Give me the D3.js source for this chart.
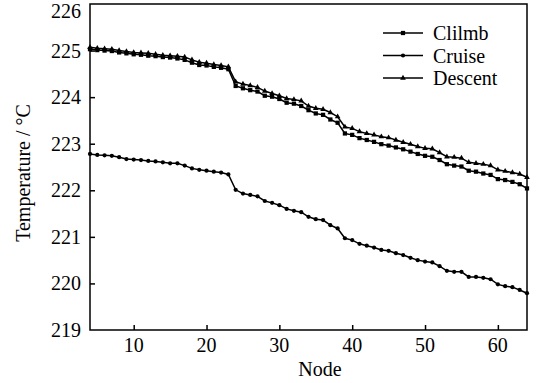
<!DOCTYPE html>
<html>
<head>
<meta charset="utf-8">
<script src="https://cdn.jsdelivr.net/npm/d3@7"></script>
<style>
  body { margin: 0; background: #fff; }
  text { font-family: "Liberation Serif", "Times New Roman", serif; fill: #000; }
</style>
</head>
<body>
<div id="chart"></div>
<script>
var w = 538, h = 383;
var margin = {left: 90, right: 11, top: 4, bottom: 53};

// node numbers 4..64
var nodes = [];
for (var n = 4; n <= 64; n++) nodes.push(n);

var climb = [225.03, 225.01, 225.00, 224.99, 224.96, 224.94, 224.92, 224.91, 224.89, 224.88,
  224.86, 224.85, 224.83, 224.80, 224.74, 224.69, 224.68, 224.65, 224.63, 224.60,
  224.24, 224.19, 224.15, 224.12, 224.03, 224.01, 223.96, 223.88, 223.86, 223.81,
  223.72, 223.65, 223.62, 223.52, 223.45, 223.22, 223.19, 223.12, 223.08, 223.04,
  222.99, 222.96, 222.92, 222.88, 222.83, 222.78, 222.74, 222.72, 222.65, 222.56,
  222.53, 222.51, 222.42, 222.40, 222.36, 222.33, 222.24, 222.22, 222.18, 222.13, 222.04];

var cruise = [222.78, 222.76, 222.75, 222.74, 222.71, 222.67, 222.66, 222.65, 222.63, 222.62,
  222.60, 222.58, 222.58, 222.53, 222.47, 222.44, 222.42, 222.40, 222.38, 222.34,
  222.01, 221.93, 221.90, 221.87, 221.77, 221.73, 221.68, 221.60, 221.56, 221.53,
  221.43, 221.38, 221.36, 221.25, 221.18, 220.97, 220.93, 220.85, 220.81, 220.77,
  220.72, 220.70, 220.65, 220.61, 220.55, 220.50, 220.47, 220.45, 220.37, 220.27,
  220.25, 220.25, 220.14, 220.14, 220.12, 220.09, 219.98, 219.94, 219.92, 219.86, 219.79];

var descent = [225.07, 225.05, 225.04, 225.03, 225.00, 224.98, 224.96, 224.95, 224.94, 224.92,
  224.90, 224.89, 224.88, 224.86, 224.80, 224.75, 224.73, 224.70, 224.68, 224.65,
  224.33, 224.28, 224.25, 224.21, 224.13, 224.08, 224.03, 223.97, 223.95, 223.92,
  223.81, 223.76, 223.74, 223.67, 223.58, 223.36, 223.33, 223.26, 223.22, 223.19,
  223.15, 223.13, 223.08, 223.03, 222.99, 222.94, 222.90, 222.89, 222.81, 222.72,
  222.71, 222.69, 222.60, 222.58, 222.56, 222.53, 222.44, 222.41, 222.38, 222.35, 222.28];

var seriesNames = ["Clilmb", "Cruise", "Descent"];
var seriesMarks = ["square", "circle", "triangle"];
var xTicks = [10, 20, 30, 40, 50, 60];
var yTicks = [219, 220, 221, 222, 223, 224, 225, 226];

var series = [climb, cruise, descent];
var fs = 20;

var svg = d3.select("#chart").append("svg")
  .attr("width", w)
  .attr("height", h);

var x = d3.scaleLinear().domain([4, 64]).range([margin.left, w - margin.right]);
var y = d3.scaleLinear().domain([219, 226]).range([h - margin.bottom, margin.top]);

var symbolType = {
  square: d3.symbolSquare,
  circle: d3.symbolCircle,
  triangle: d3.symbolTriangle
};
var symbolSize = {square: 18, circle: 14, triangle: 14};

// ticks inward
var xAxis = d3.axisTop(x).tickValues(xTicks).tickSize(5).tickFormat("");
var yAxis = d3.axisRight(y).tickValues(yTicks.slice(1, -1)).tickSize(5).tickFormat("");

svg.append("g")
  .attr("transform", "translate(0," + (h - margin.bottom) + ")")
  .call(xAxis)
  .call(function(g) { g.select(".domain").remove(); })
  .selectAll("line").attr("stroke", "#000").attr("stroke-width", 1.5);

svg.append("g")
  .attr("transform", "translate(" + margin.left + ",0)")
  .call(yAxis)
  .call(function(g) { g.select(".domain").remove(); })
  .selectAll("line").attr("stroke", "#000").attr("stroke-width", 1.5);

// frame
svg.append("rect")
  .attr("x", x(4))
  .attr("y", y(226))
  .attr("width", x(64) - x(4))
  .attr("height", y(219) - y(226))
  .attr("fill", "none")
  .attr("stroke", "#000")
  .attr("stroke-width", 1.5);

// tick labels
svg.selectAll(".xlab")
  .data(xTicks)
  .enter().append("text")
  .attr("x", function(d) { return x(d); })
  .attr("y", h - margin.bottom + 22)
  .attr("text-anchor", "middle")
  .attr("font-size", fs)
  .text(function(d) { return d; });

svg.selectAll(".ylab")
  .data(yTicks)
  .enter().append("text")
  .attr("x", margin.left - 9)
  .attr("y", function(d) { return Math.max(y(d) + 7, 18); })
  .attr("text-anchor", "end")
  .attr("font-size", fs)
  .text(function(d) { return d; });

svg.append("text")
  .attr("x", 320)
  .attr("y", h - 7)
  .attr("text-anchor", "middle")
  .attr("font-size", fs)
  .text("Node");

svg.append("text")
  .attr("transform", "translate(30,173) rotate(-90)")
  .attr("text-anchor", "middle")
  .attr("font-size", fs)
  .text("Temperature / °C");

var line = d3.line()
  .x(function(d, i) { return x(nodes[i]); })
  .y(function(d) { return y(d); });

series.forEach(function(s, k) {
  svg.append("path")
    .datum(s)
    .attr("d", line)
    .attr("fill", "none")
    .attr("stroke", "#000")
    .attr("stroke-width", 1.5);

  svg.selectAll(".m" + k)
    .data(s)
    .enter().append("path")
    .attr("class", "m" + k)
    .attr("transform", function(d, i) { return "translate(" + x(nodes[i]) + "," + y(d) + ")"; })
    .attr("d", d3.symbol().type(symbolType[seriesMarks[k]]).size(symbolSize[seriesMarks[k]]))
    .attr("fill", "#000");
});

// legend
var legend = svg.append("g").attr("transform", "translate(383,33)");
seriesNames.forEach(function(name, k) {
  var g = legend.append("g").attr("transform", "translate(0," + (k * 22.5) + ")");
  g.append("line")
    .attr("x1", 0).attr("x2", 40)
    .attr("stroke", "#000").attr("stroke-width", 1.5);
  g.append("path")
    .attr("transform", "translate(20,0)")
    .attr("d", d3.symbol().type(symbolType[seriesMarks[k]]).size(symbolSize[seriesMarks[k]]))
    .attr("fill", "#000");
  g.append("text")
    .attr("x", 50)
    .attr("y", 7)
    .attr("font-size", fs)
    .text(name);
});
</script>
</body>
</html>
